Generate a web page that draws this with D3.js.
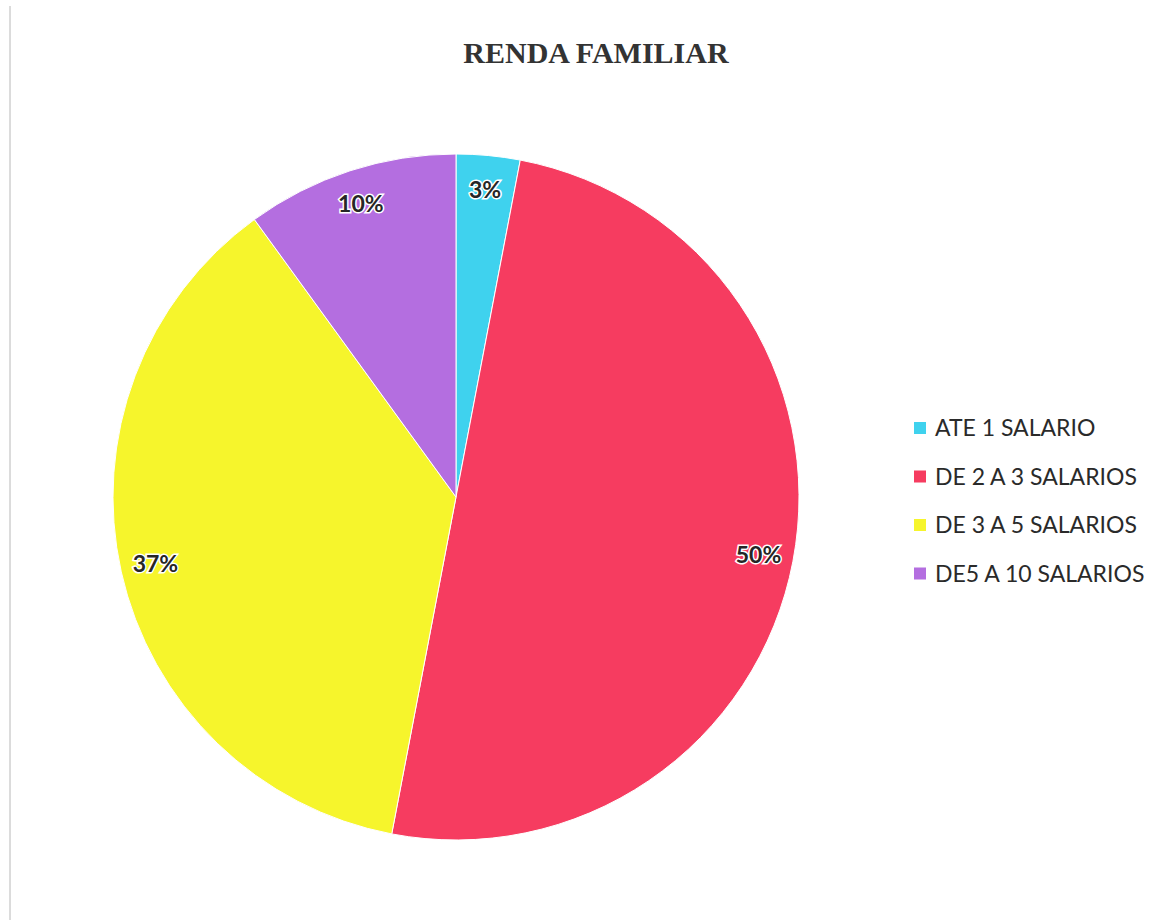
<!DOCTYPE html>
<html>
<head>
<meta charset="utf-8">
<script src="https://cdn.jsdelivr.net/npm/d3@7"></script>
<style>
  body { margin: 0; background: #fff; }
</style>
</head>
<body>
<div id="chart"></div>
<script>
// data
var categories = ["ATE 1 SALARIO", "DE 2 A 3 SALARIOS", "DE 3 A 5 SALARIOS", "DE5 A 10 SALARIOS"];
var values = [3, 50, 37, 10];
var labels = ["3%", "50%", "37%", "10%"];
var colors = ["#3fd2ee", "#f63c60", "#f6f52c", "#b46ee0"];

var width = 1166, height = 920;
var cx = 456, cy = 497, radius = 343;

var svg = d3.select("#chart")
  .append("svg")
  .attr("width", width)
  .attr("height", height);

// faint page border on the left
svg.append("line")
  .attr("x1", 10).attr("x2", 10)
  .attr("y1", 6).attr("y2", 920)
  .attr("stroke", "#b8b8b8")
  .attr("stroke-width", 1);

// title
svg.append("text")
  .attr("x", 596)
  .attr("y", 63)
  .attr("text-anchor", "middle")
  .style("font-family", "'Liberation Serif', 'Times New Roman', serif")
  .style("font-weight", "bold")
  .style("font-size", "30px")
  .attr("fill", "#333")
  .text("RENDA FAMILIAR");

var color = d3.scaleOrdinal().domain(categories).range(colors);

var pie = d3.pie().sort(null).value(function(d, i) { return values[i]; });
var arcs = pie(categories);

var arc = d3.arc().innerRadius(0).outerRadius(radius);
var labelArc = d3.arc().innerRadius(308).outerRadius(308);

var g = svg.append("g")
  .attr("transform", "translate(" + cx + "," + cy + ")");

g.selectAll("path")
  .data(arcs)
  .enter()
  .append("path")
    .attr("d", arc)
    .attr("fill", function(d) { return color(d.data); })
    .attr("stroke", "#fff")
    .attr("stroke-width", 1);

// percentage labels with white halo
g.selectAll("text.lbl")
  .data(arcs)
  .enter()
  .append("text")
    .attr("class", "lbl")
    .attr("transform", function(d) { return "translate(" + labelArc.centroid(d) + ")"; })
    .attr("text-anchor", "middle")
    .attr("dy", "0.35em")
    .style("font-family", "Lato, 'Open Sans', sans-serif")
    .style("font-weight", "bold")
    .style("font-size", "23px")
    .attr("fill", "#262626")
    .attr("stroke", "#fff")
    .attr("stroke-width", 3)
    .attr("paint-order", "stroke")
    .text(function(d, i) { return labels[i]; });

// legend
var legend = svg.append("g").attr("transform", "translate(914,428)");
var rowH = 48.5;

legend.selectAll("rect")
  .data(categories)
  .enter()
  .append("rect")
    .attr("x", 0)
    .attr("y", function(d, i) { return i * rowH - 6; })
    .attr("width", 12)
    .attr("height", 12)
    .attr("fill", function(d) { return color(d); });

legend.selectAll("text")
  .data(categories)
  .enter()
  .append("text")
    .attr("x", 21)
    .attr("y", function(d, i) { return i * rowH; })
    .attr("dy", "0.36em")
    .style("font-family", "Lato, 'Open Sans', sans-serif")
    .style("font-size", "23px")
    .attr("fill", "#2a2a2a")
    .text(function(d) { return d; });
</script>
</body>
</html>
